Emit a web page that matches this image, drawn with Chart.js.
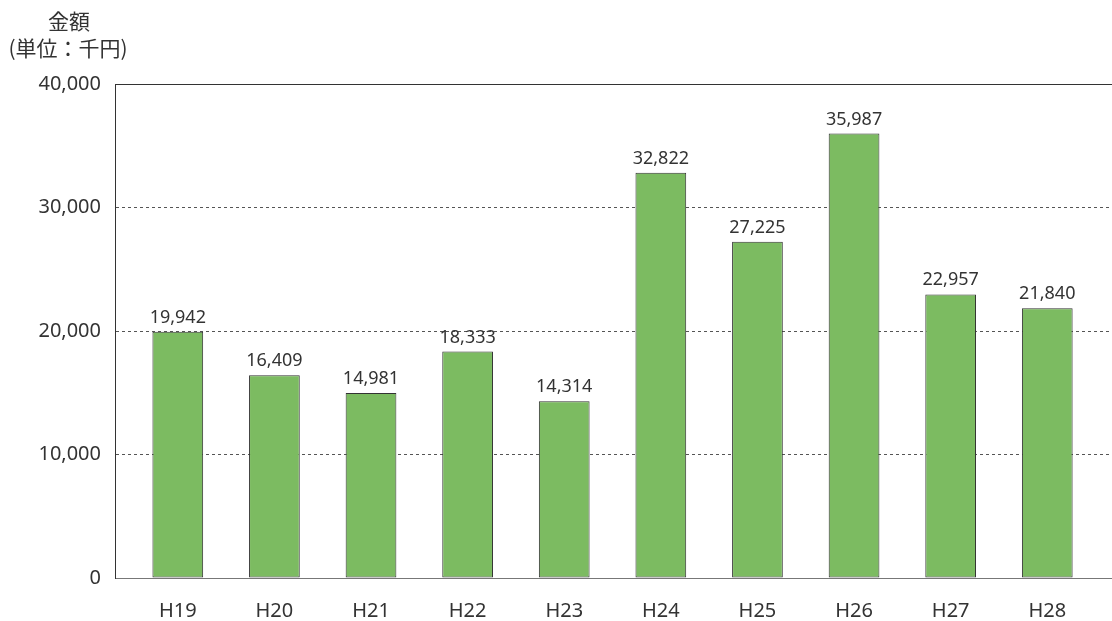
<!DOCTYPE html>
<html>
<head>
<meta charset="utf-8">
<script src="https://cdn.jsdelivr.net/npm/chart.js@4/dist/chart.umd.min.js"></script>
<style>
  html, body { margin: 0; padding: 0; background: #fff; }
  #wrap { width: 1112px; height: 621px; position: relative; }
</style>
</head>
<body>
<div id="wrap"><canvas id="amountChart"></canvas></div>
<script>
const categories = ['H19', 'H20', 'H21', 'H22', 'H23', 'H24', 'H25', 'H26', 'H27', 'H28'];
const amounts = [19942, 16409, 14981, 18333, 14314, 32822, 27225, 35987, 22957, 21840];
const yTicks = [0, 10000, 20000, 30000, 40000];
const unitLines = ['金額', '(単位：千円)'];

const numFont = '"Noto Sans", "DejaVu Sans", sans-serif';
const jpFont = '"Noto Sans CJK JP", "Noto Sans", sans-serif';

const unitLabel = {
    id: 'unitLabel',
    afterDraw(chart) {
        const ctx = chart.ctx;
        ctx.save();
        ctx.fillStyle = '#333';
        ctx.font = '21px ' + jpFont;
        ctx.textAlign = 'center';
        ctx.textBaseline = 'middle';
        ctx.fillText(unitLines[0], 69, 21);
        ctx.fillText(unitLines[1], 68, 48);
        ctx.restore();
    },
};

const valueLabels = {
    id: 'valueLabels',
    afterDatasetsDraw(chart) {
        const ctx = chart.ctx;
        const meta = chart.getDatasetMeta(0);
        ctx.save();
        ctx.fillStyle = '#333';
        ctx.font = '18px ' + numFont;
        ctx.textAlign = 'center';
        ctx.textBaseline = 'alphabetic';
        meta.data.forEach((bar, i) => {
            ctx.fillText(amounts[i].toLocaleString('en-US'), bar.x, bar.y - 9);
        });
        ctx.restore();
    },
};

new Chart(document.getElementById('amountChart'), {
    type: 'bar',
    data: {
        datasets: [{
            data: amounts.map((v, i) => ({ x: i, y: v })),
            backgroundColor: '#7cbb61',
            borderColor: '#333',
            borderWidth: 1,
            borderSkipped: false,
            categoryPercentage: 1,
            barPercentage: 0.525,
        }],
    },
    options: {
        responsive: true,
        maintainAspectRatio: false,
        animation: false,
        layout: { padding: { top: 84, left: 0, right: 0, bottom: 0 } },
        plugins: {
            legend: { display: false },
            tooltip: { enabled: false },
        },
        scales: {
            x: {
                type: 'linear',
                offset: false,
                min: -0.65,
                max: 9.67,
                afterBuildTicks: (axis) => {
                    axis.ticks = categories.map((c, i) => ({ value: i }));
                },
                afterFit: (axis) => { axis.height = 43; },
                grid: { display: false, offset: false },
                border: { display: true, color: '#777', width: 1 },
                ticks: {
                    autoSkip: false,
                    maxRotation: 0,
                    padding: 13,
                    color: '#333',
                    font: { family: numFont, size: 20 },
                    callback: (value) => categories[value] || '',
                },
            },
            y: {
                min: 0,
                max: 40000,
                afterBuildTicks: (axis) => {
                    axis.ticks = yTicks.map((v) => ({ value: v }));
                },
                afterFit: (axis) => { axis.width = 115; },
                grid: {
                    drawTicks: false,
                    lineWidth: 1,
                    color: (ctx) => {
                        if (!ctx.tick) return '#555';
                        if (ctx.tick.value === 40000) return '#333';
                        if (ctx.tick.value === 0) return '#777';
                        return '#555';
                    },
                },
                border: {
                    display: true,
                    color: '#333',
                    width: 1,
                    dash: (ctx) => {
                        if (!ctx.tick) return [];
                        return (ctx.tick.value === 0 || ctx.tick.value === 40000) ? [] : [3, 3];
                    },
                },
                ticks: {
                    padding: 14,
                    color: '#333',
                    font: { family: numFont, size: 20 },
                    callback: (value) => value.toLocaleString('en-US'),
                },
            },
        },
    },
    plugins: [unitLabel, valueLabels],
});
</script>
</body>
</html>
